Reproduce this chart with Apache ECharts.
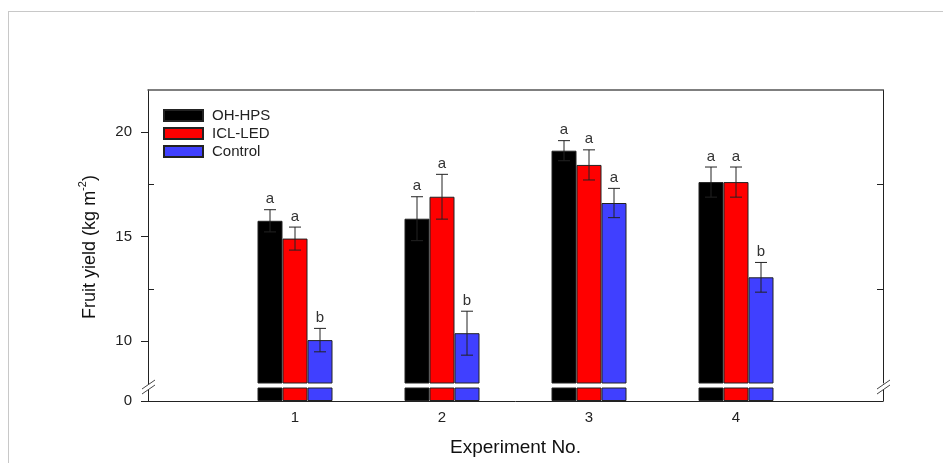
<!DOCTYPE html>
<html>
<head>
<meta charset="utf-8">
<script src="https://cdn.jsdelivr.net/npm/echarts@6/dist/echarts.min.js"></script>
<style>html,body{margin:0;padding:0;background:#fff;}#c{width:943px;height:463px;}</style>
</head>
<body>
<div id="c"></div>
<script>
// ---- data ----
const categories = ['1', '2', '3', '4'];
const seriesNames = ['OH-HPS', 'ICL-LED', 'Control'];
const ohHps = [15.75, 15.85, 19.1, 17.6];
const ohHpsErr = [0.53, 1.05, 0.48, 0.72];
const iclLed = [14.9, 16.9, 18.42, 17.6];
const iclLedErr = [0.55, 1.07, 0.72, 0.72];
const control = [10.05, 10.38, 16.6, 13.05];
const controlErr = [0.56, 1.05, 0.7, 0.71];
const ohHpsLetters = ['a', 'a', 'a', 'a'];
const iclLedLetters = ['a', 'a', 'a', 'a'];
const controlLetters = ['b', 'b', 'a', 'b'];
const yTickLabels = [10, 15, 20];
const yMinorTicks = [12.5, 17.5];
const yLowTick = [0];

// ---- build ----
const FONT = '"Liberation Sans", Arial, sans-serif';
const colors = ['#000000', '#ff0000', '#4040ff'];
const values = [ohHps, iclLed, control];
const errs = [ohHpsErr, iclLedErr, controlErr];
const letters = [ohHpsLetters, iclLedLetters, controlLetters];
const axisCats = [''].concat(categories, [' ']);
const pad = arr => [null].concat(arr, [null]);
const BW = 25;

const errItems = [];
const errLetters = [];
values.forEach((vals, s) => {
  vals.forEach((v, i) => {
    errItems.push([i + 1, v, errs[s][i], s]);
    errLetters.push(letters[s][i]);
  });
});

const series = [];
seriesNames.forEach((name, s) => {
  [0, 1].forEach(g => {
    series.push({
      name: name, type: 'bar', xAxisIndex: g, yAxisIndex: g === 0 ? 0 : 3,
      barWidth: BW, barGap: '0%', clip: true, silent: true,
      itemStyle: { color: colors[s], borderColor: '#222', borderWidth: 1 },
      data: pad(values[s])
    });
  });
});
series.push({
  type: 'custom', xAxisIndex: 0, yAxisIndex: 0, silent: true, clip: false, z: 5,
  data: errItems,
  renderItem: function (params, api) {
    const idx = api.value(0), v = api.value(1), e = api.value(2), s = api.value(3);
    const cx = api.coord([idx, v])[0] + (s - 1) * BW;
    const top = api.coord([idx, v + e])[1];
    const bot = api.coord([idx, v - e])[1];
    const st = { stroke: '#222', lineWidth: 1 };
    const hw = 6;
    return {
      type: 'group',
      children: [
        { type: 'line', shape: { x1: cx, y1: top, x2: cx, y2: bot }, style: st },
        { type: 'line', shape: { x1: cx - hw, y1: top, x2: cx + hw, y2: top }, style: st },
        { type: 'line', shape: { x1: cx - hw, y1: bot, x2: cx + hw, y2: bot }, style: st },
        { type: 'text', x: cx, y: top - 3, style: { text: errLetters[params.dataIndex], fill: '#333', font: '15px ' + FONT, align: 'center', verticalAlign: 'bottom' } }
      ]
    };
  }
});

const axisLine = { show: true, lineStyle: { color: '#222', width: 1 } };
const option = {
  animation: false,
  textStyle: { fontFamily: FONT },
  grid: [
    { left: 148, right: 60, top: 90, height: 293 },
    { left: 148, right: 60, top: 388, height: 13 }
  ],
  legend: {
    data: seriesNames, orient: 'vertical', left: 163, top: 108, padding: 0,
    itemWidth: 39, itemHeight: 11, itemGap: 3, icon: 'rect',
    textStyle: { fontSize: 15, color: '#222', fontFamily: FONT, padding: [0, 0, 0, 4] }
  },
  xAxis: [
    { type: 'category', gridIndex: 0, data: axisCats, boundaryGap: false, position: 'top',
      axisLine: { show: true, lineStyle: { color: '#555', width: 1.5 } }, axisTick: { show: false }, axisLabel: { show: false }, splitLine: { show: false } },
    { type: 'category', gridIndex: 1, data: axisCats, boundaryGap: false, position: 'bottom',
      axisLine: axisLine, axisTick: { show: false }, splitLine: { show: false },
      axisLabel: { show: true, fontSize: 15, color: '#222', margin: 9, fontFamily: FONT },
      name: 'Experiment No.', nameLocation: 'middle', nameGap: 37,
      nameTextStyle: { fontSize: 19, color: '#111', fontFamily: FONT } }
  ],
  yAxis: [
    { type: 'value', gridIndex: 0, min: 8, max: 22, position: 'left',
      axisLine: axisLine, splitLine: { show: false },
      axisTick: { show: true, inside: false, length: 7, customValues: yTickLabels, lineStyle: { color: '#222' } },
      axisLabel: { show: true, customValues: yTickLabels, fontSize: 15, color: '#222', margin: 16, fontFamily: FONT } },
    { type: 'value', gridIndex: 0, min: 8, max: 22, position: 'left',
      axisLine: { show: false }, splitLine: { show: false }, axisLabel: { show: false },
      axisTick: { show: true, inside: true, length: 6, customValues: yMinorTicks, lineStyle: { color: '#222' } } },
    { type: 'value', gridIndex: 0, min: 8, max: 22, position: 'right',
      axisLine: axisLine, splitLine: { show: false }, axisLabel: { show: false },
      axisTick: { show: true, inside: true, length: 6, customValues: yMinorTicks, lineStyle: { color: '#222' } } },
    { type: 'value', gridIndex: 1, min: 0, max: 1, position: 'left',
      axisLine: axisLine, splitLine: { show: false },
      axisTick: { show: true, inside: false, length: 7, customValues: yLowTick, lineStyle: { color: '#222' } },
      axisLabel: { show: true, customValues: yLowTick, fontSize: 15, color: '#222', margin: 16, fontFamily: FONT } },
    { type: 'value', gridIndex: 1, min: 0, max: 1, position: 'right',
      axisLine: axisLine, splitLine: { show: false }, axisLabel: { show: false }, axisTick: { show: false } }
  ],
  graphic: [
    { type: 'line', shape: { x1: 8, y1: 11.5, x2: 943, y2: 11.5 }, style: { stroke: '#c8c8c8', lineWidth: 1 }, silent: true },
    { type: 'line', shape: { x1: 8.5, y1: 11, x2: 8.5, y2: 463 }, style: { stroke: '#c8c8c8', lineWidth: 1 }, silent: true },
    // axis break marks
    { type: 'polygon', shape: { points: [[142, 389], [155, 380], [155, 385], [142, 394]] }, style: { fill: '#fff' }, silent: true, z: 10 },
    { type: 'line', shape: { x1: 142, y1: 389, x2: 155, y2: 380 }, style: { stroke: '#444', lineWidth: 1 }, silent: true, z: 11 },
    { type: 'line', shape: { x1: 142, y1: 394, x2: 155, y2: 385 }, style: { stroke: '#444', lineWidth: 1 }, silent: true, z: 11 },
    { type: 'line', shape: { x1: 148.5, y1: 383, x2: 148.5, y2: 388 }, style: { stroke: '#222', lineWidth: 1 }, silent: true, z: 9 },
    { type: 'polygon', shape: { points: [[877, 389], [890, 380], [890, 385], [877, 394]] }, style: { fill: '#fff' }, silent: true, z: 10 },
    { type: 'line', shape: { x1: 877, y1: 389, x2: 890, y2: 380 }, style: { stroke: '#444', lineWidth: 1 }, silent: true, z: 11 },
    { type: 'line', shape: { x1: 877, y1: 394, x2: 890, y2: 385 }, style: { stroke: '#444', lineWidth: 1 }, silent: true, z: 11 },
    // y axis title
    { type: 'text', x: 88, y: 247, rotation: Math.PI / 2, silent: true,
      style: { text: '{n|Fruit yield (kg m}{s|-2}{n|)}', align: 'center', verticalAlign: 'middle',
        rich: { n: { fontSize: 18, fontFamily: FONT, fill: '#111', lineHeight: 22, verticalAlign: 'bottom' },
                s: { fontSize: 11, fontFamily: FONT, fill: '#111', lineHeight: 22, verticalAlign: 'top', padding: [0, 0, 11, 0] } } } }
  ],
  series: series
};
echarts.init(document.getElementById('c'), null, { renderer: 'canvas' }).setOption(option);
</script>
</body>
</html>
